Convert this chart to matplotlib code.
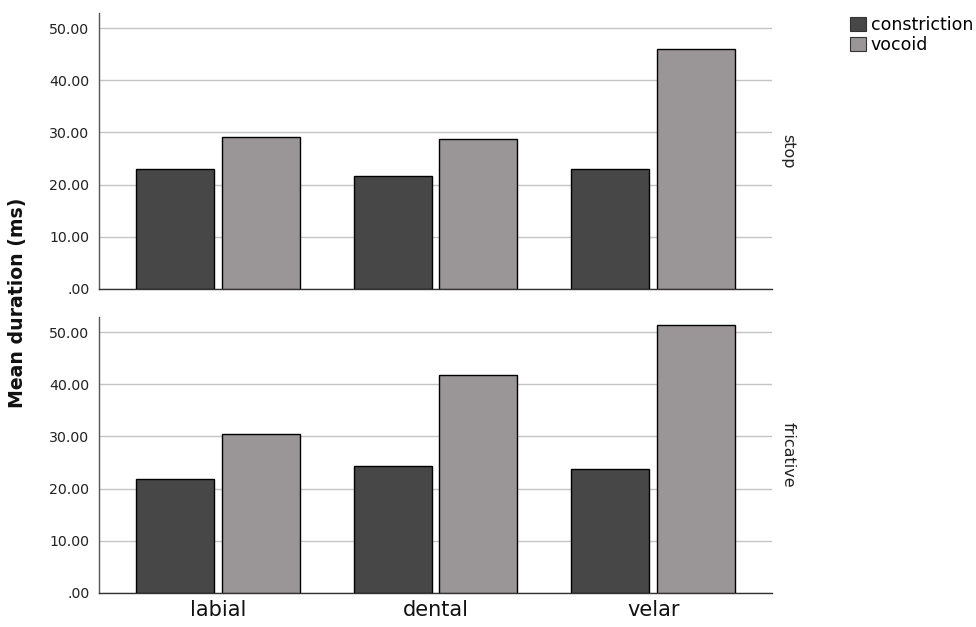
import matplotlib
matplotlib.use("Agg")
import matplotlib.pyplot as plt
from matplotlib.patches import Patch
import numpy as np

plt.rcParams['font.family'] = ['DejaVu Sans']

places = ["labial", "dental", "velar"]
manners = ["stop", "fricative"]
series = ["constriction", "vocoid"]
stop_constriction = [23.0, 21.6, 23.0]
stop_vocoid = [29.1, 28.7, 46.0]
fric_constriction = [21.8, 24.3, 23.8]
fric_vocoid = [30.5, 41.8, 51.3]
yticks = [0, 10, 20, 30, 40, 50]
yticklabels = [".00", "10.00", "20.00", "30.00", "40.00", "50.00"]

colors = ["#474747", "#9a9597"]
data = {"stop": [stop_constriction, stop_vocoid],
        "fricative": [fric_constriction, fric_vocoid]}

fig = plt.figure(figsize=(9.76, 6.27), dpi=100)
W, H = 976, 627
left, right = 99, 772
panels = [(13, 289), (317, 593)]

x = np.arange(len(places))
bw = 0.358
off = 0.197

for (top, bot), manner in zip(panels, manners):
    ax = fig.add_axes([left / W, 1 - bot / H, (right - left) / W, (bot - top) / H])
    vals = data[manner]
    for i, (s, v) in enumerate(zip(series, vals)):
        ax.bar(x + (i * 2 - 1) * off, v, width=bw, color=colors[i],
               edgecolor="black", linewidth=1.0, zorder=3)
    ax.set_xlim(-0.546, 2.546)
    ax.set_ylim(0, 52.9)
    ax.set_yticks(yticks)
    ax.set_yticklabels(yticklabels, fontsize=10.2, color="#222222")
    ax.tick_params(axis='y', length=0, pad=7)
    ax.yaxis.grid(True, color="#c4c4c4", linewidth=1.0, zorder=0)
    ax.set_axisbelow(True)
    for sp in ["top", "right"]:
        ax.spines[sp].set_visible(False)
    ax.spines["left"].set_color("#555555")
    ax.spines["bottom"].set_color("#333333")
    ax.spines["left"].set_linewidth(1.0)
    ax.spines["bottom"].set_linewidth(1.0)
    ax.text(1.024, 0.5, manner, transform=ax.transAxes, rotation=270,
            ha="center", va="center", fontsize=11.5, color="#222222")
    if manner == "fricative":
        ax.set_xticks(x)
        ax.set_xticklabels(places, fontsize=15, color="#111111")
        ax.tick_params(axis='x', length=0, pad=5)
    else:
        ax.set_xticks([])

fig.text(18 / W, 1 - 303 / H, "Mean duration (ms)", rotation=90, ha="center",
         va="center", fontsize=13.6, fontweight="bold", color="#111111")

handles = [Patch(facecolor=c, edgecolor="#333333", linewidth=0.8) for c in colors]
fig.legend(handles, series, loc="upper left", bbox_to_anchor=(850 / W, 1 - 16 / H),
           frameon=False, fontsize=12.5, handlelength=0.9, handleheight=0.9,
           handletextpad=0.3, labelspacing=0.1, borderaxespad=0, borderpad=0)

fig.savefig("out.png", dpi=100)
